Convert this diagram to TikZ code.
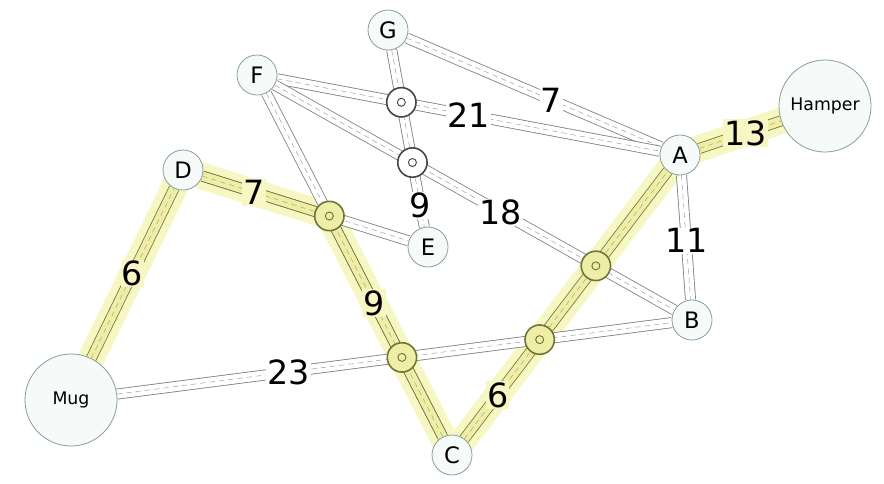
\documentclass[tikz,border=0pt]{standalone}
\usepackage{fontspec}
\setmainfont{DejaVu Sans}
\usetikzlibrary{backgrounds}
\definecolor{glowcol}{HTML}{F7F7C4}
\definecolor{roadline}{HTML}{7E7E7E}
\definecolor{hiline}{HTML}{74743A}
\definecolor{hifill}{HTML}{EEEEA6}
\definecolor{townline}{HTML}{86A096}
\definecolor{townfill}{HTML}{F6FBFA}
\tikzset{
  town/.style={circle, draw=townline, fill=townfill, line width=0.6pt, minimum size=30pt, inner sep=0pt, font=\fontsize{17}{17}\selectfont},
  bigtown/.style={town, minimum size=69pt, font=\fontsize{13}{13}\selectfont},
  road/.style={draw=roadline, line width=0.6pt, double=white, double distance=7pt},
  hiroad/.style={draw=hiline, line width=0.6pt, double=hifill, double distance=7pt},
  midline/.style={draw=roadline!70, line width=0.4pt, dash pattern=on 4pt off 3pt},
  glow/.style={draw=glowcol, line width=20pt, line cap=round},
  roundabout/.style={circle, draw=gray!55!black, fill=white, line width=1.2pt, minimum size=22pt, inner sep=0pt,
    path picture={\draw[line width=0.7pt] (path picture bounding box.center) circle (3pt);}},
  hiroundabout/.style={roundabout, draw=hiline, fill=hifill},
  weight/.style={fill=white, inner sep=0.8pt, font=\fontsize{25}{25}\selectfont},
  hiweight/.style={weight, fill=glowcol}
}
\begin{document}
\begin{tikzpicture}[x=0.75pt, y=-0.75pt]
  \useasboundingbox (0,0) rectangle (884,483);
  % towns
  \node[town] (G) at (388,30) {G};
  \node[town] (F) at (257,75) {F};
  \node[town] (D) at (183,170) {D};
  \node[town] (E) at (428,247) {E};
  \node[town] (A) at (680,155) {A};
  \node[town] (B) at (692,320) {B};
  \node[town] (C) at (452,455) {C};
  \node[bigtown] (hamper) at (825,106) {Hamper};
  \node[bigtown] (mug) at (71,400) {Mug};
  % crossings of roads
  \coordinate (j1) at (intersection of F--A and G--E);
  \coordinate (j2) at (intersection of F--B and G--E);
  \coordinate (j3) at (intersection of D--E and F--C);
  \coordinate (j4) at (intersection of F--C and mug--B);
  \coordinate (j5) at (intersection of F--B and C--A);
  \coordinate (j6) at (intersection of mug--B and C--A);
  % shortest route glow
  \begin{scope}[on background layer]
    \foreach \a/\b in {mug/D, D/j3, j3/C, C/A, A/hamper}
      \draw[glow] (\a.center) -- (\b.center);
  \end{scope}
  % plain roads
  \foreach \a/\b in {G/A, F/A, F/B, G/E, D/E, F/C, mug/B, A/B} {
    \draw[road] (\a) -- (\b);
    \draw[midline] (\a) -- (\b);
  }
  % roads on the route
  \foreach \a/\b in {mug/D, D/j3, j3/C, C/A, A/hamper} {
    \draw[hiroad] (\a) -- (\b);
    \draw[midline, draw=hiline!60] (\a) -- (\b);
  }
  % roundabouts
  \node[roundabout] (r1) at (j1) {};
  \node[roundabout] (r2) at (j2) {};
  \foreach \j in {3,4,5,6}
    \node[hiroundabout] (r\j) at (j\j) {};
  % distances
  \foreach \a/\b/\p/\w in {G/A/0.56/7, F/A/0.5/21, F/B/0.56/18, G/E/0.81/9, mug/B/0.35/23, A/B/0.52/11}
    \path (\a.center) -- (\b.center) node[weight, pos=\p] (w\a\b) {\w};
  \foreach \a/\b/\p/\w in {D/E/0.29/7, mug/D/0.55/6, F/C/0.6/9, C/A/0.2/6, A/hamper/0.45/13}
    \path (\a.center) -- (\b.center) node[hiweight, pos=\p] (w\a\b) {\w};
\end{tikzpicture}
\end{document}
